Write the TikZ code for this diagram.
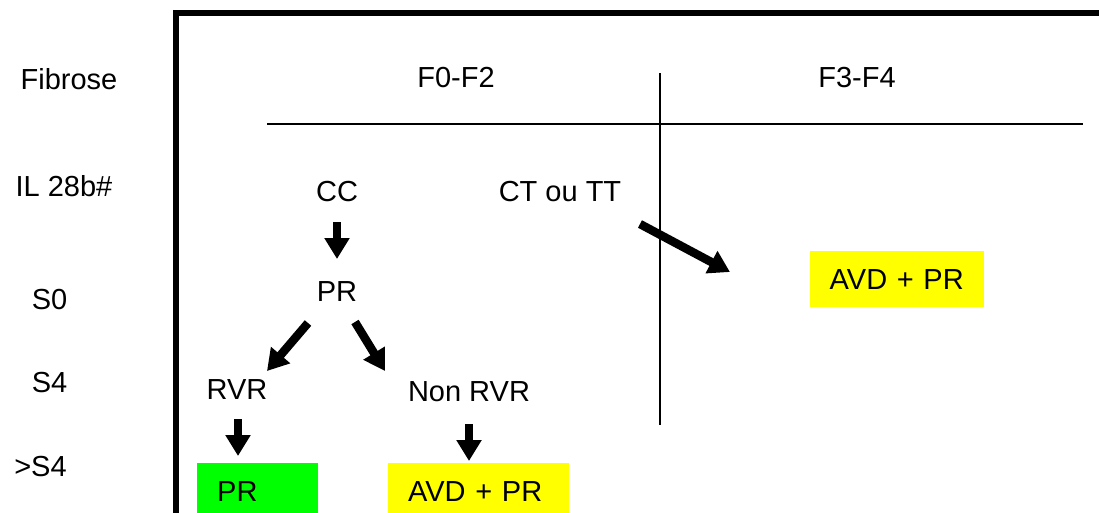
\documentclass[tikz,border=0pt]{standalone}
\usepackage{fontspec}
\setmainfont{Liberation Sans}
\usetikzlibrary{arrows.meta,calc}
\begin{document}
\begin{tikzpicture}[x=1pt,y=-1pt,
  txt/.style={font=\fontsize{29}{34}\selectfont, inner sep=0pt},
  bigarrow/.style={line width=8.5pt, -{Triangle[width=24pt,length=21pt]}},
  box/.style={txt, anchor=north west, align=left, inner xsep=20pt, inner ysep=17pt, text height=20.8pt, text depth=0pt},
  thinline/.style={line width=1.6pt}]
\clip (0,0) rectangle (1099,512);
\fill[white] (0,0) rectangle (1099,512);
% frame
\draw[line width=6pt, line join=miter] (176,520) -- (176,13) -- (1105,13);
% row labels
\node[txt] (fib) at (69,79) {Fibrose};
\node[txt] (il) at (64,186) {IL 28b\#};
\node[txt] (s0) at (49.5,299.5) {S0};
\node[txt] (s4) at (49.5,383) {S4};
\node[txt] (gs4) at (40.5,466.5) {>S4};
% column headers
\node[txt] (f02) at (456,78) {F0-F2};
\node[txt] (f34) at (857,78) {F3-F4};
\coordinate (hl) at (267,124);
\coordinate (hr) at (1083,124);
\coordinate (vt) at (660,73);
\coordinate (vb) at (660,425);
\draw[thinline] (hl) -- (hr);
\draw[line width=2pt] (vt) -- (vb);
% nodes
\node[txt] (cc) at (337,192) {CC};
\node[txt] (ct) at (560,191.5) {CT ou TT};
\node[txt] (pr) at (337,292) {PR};
\node[txt] (rvr) at (237,390) {RVR};
\node[txt] (nrvr) at (469,392) {Non RVR};
\node[box, fill={rgb,255:red,0;green,255;blue,0}, text width=81pt] (prg) at (197,463) {PR};
\node[box, fill={rgb,255:red,255;green,255;blue,0}, text width=141pt] (avdb) at (388,463) {AVD + PR};
\node[box, fill={rgb,255:red,255;green,255;blue,0}, text width=135pt, inner xsep=19.5pt, inner ysep=17.5pt] (avdr) at (810,251) {AVD + PR};
% arrows
\draw[bigarrow] ($(cc)+(0,30)$) -- ($(pr)+(0,-33)$);
\draw[bigarrow] ($(pr)+(-29,31)$) -- ($(rvr)+(30,-19)$);
\draw[bigarrow] ($(pr)+(18,30)$) -- ($(nrvr)+(-84,-21)$);
\draw[bigarrow] ($(rvr)+(1,29)$) -- ($(prg.north west)+(41,-7)$);
\draw[bigarrow] ($(nrvr)+(0,32)$) -- ($(avdb.north west)+(81,-2)$);
\draw[bigarrow] ($(ct)+(80,32.5)$) -- ($(avdr.north west)+(-80,21)$);
\end{tikzpicture}
\end{document}
